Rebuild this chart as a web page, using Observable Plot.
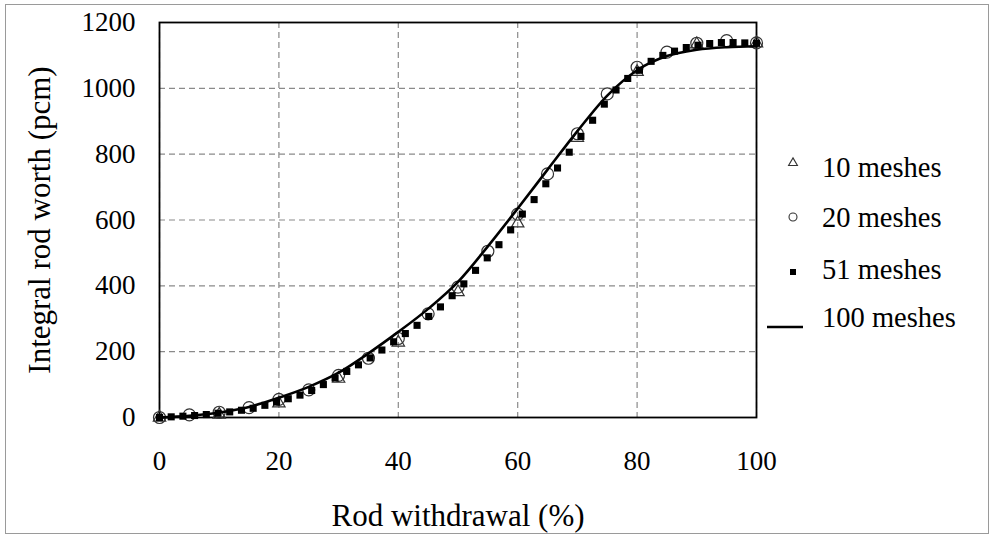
<!DOCTYPE html>
<html>
<head>
<meta charset="utf-8">
<script src="https://cdn.jsdelivr.net/npm/d3@7"></script>
<script src="https://cdn.jsdelivr.net/npm/@observablehq/plot@0.6"></script>
<style>
  html, body { margin: 0; padding: 0; background: #fff; }
  #wrap { position: relative; width: 993px; height: 537px; overflow: hidden; }
  #border { position: absolute; left: 5px; top: 4px; width: 982px; height: 528px; border: 1.5px solid #9a9a9a; pointer-events: none; }
  #legend { position: absolute; left: 0; top: 0; pointer-events: none; }
</style>
</head>
<body>
<div id="wrap"><div id="border"></div></div>
<script>
// ---- data ----
const xTicks = [0, 20, 40, 60, 80, 100];
const yTicks = [0, 200, 400, 600, 800, 1000, 1200];

const x10 = [0, 10, 20, 30, 40, 50, 60, 70, 80, 90, 100];
const y10 = [0, 9, 43, 118, 228, 381, 590, 850, 1050, 1134, 1137];

const x20 = [0, 5, 10, 15, 20, 25, 30, 35, 40, 45, 50, 55, 60, 65, 70, 75, 80, 85, 90, 95, 100];
const y20 = [0, 8, 16, 30, 55, 84, 128, 180, 240, 315, 396, 505, 618, 740, 862, 983, 1064, 1110, 1137, 1145, 1138];

const x51 = [0, 1.96, 3.92, 5.88, 7.84, 9.80, 11.76, 13.73, 15.69, 17.65, 19.61,
  21.57, 23.53, 25.49, 27.45, 29.41, 31.37, 33.33, 35.29, 37.25, 39.22,
  41.18, 43.14, 45.10, 47.06, 49.02, 50.98, 52.94, 54.90, 56.86, 58.82,
  60.78, 62.75, 64.71, 66.67, 68.63, 70.59, 72.55, 74.51, 76.47, 78.43,
  80.39, 82.35, 84.31, 86.27, 88.24, 90.20, 92.16, 94.12, 96.08, 98.04, 100];
const y51 = [0, 2, 4, 6, 9, 13, 17, 22, 28, 37, 47,
  57, 68, 82, 100, 120, 140, 160, 181, 205, 230,
  255, 280, 307, 336, 370, 406, 447, 485, 525, 570,
  618, 662, 710, 758, 806, 854, 903, 952, 995, 1030,
  1055, 1082, 1100, 1113, 1124, 1131, 1136, 1139, 1139, 1138, 1137];

const x100 = [0, 5, 10, 15, 20, 25, 30, 35, 40, 45, 50, 55, 60, 65, 70, 75, 80, 85, 90, 95, 100];
const y100 = [0, 5, 15, 32, 60, 93, 136, 195, 260, 330, 412, 520, 635, 753, 870, 978, 1055, 1098, 1117, 1125, 1128];

const seriesNames = ["10 meshes", "20 meshes", "51 meshes", "100 meshes"];
const xTitle = "Rod withdrawal (%)";
const yTitle = "Integral rod worth (pcm)";

// ---- build ----
const toRows = (xs, ys) => xs.map((x, i) => ({x, y: ys[i]}));
const d10 = toRows(x10, y10), d20 = toRows(x20, y20), d51 = toRows(x51, y51), d100 = toRows(x100, y100);
const FONT = '"Liberation Serif", "Times New Roman", Times, serif';

const chart = Plot.plot({
  width: 993, height: 537,
  marginLeft: 159, marginRight: 237, marginTop: 22, marginBottom: 120,
  style: {fontFamily: FONT, background: "transparent", color: "#000", overflow: "visible"},
  x: {domain: [0, 100]},
  y: {domain: [0, 1200]},
  marks: [
    Plot.gridX(xTicks, {stroke: "#8a8a8a", strokeOpacity: 1, strokeWidth: 1.2, strokeDasharray: "6,4"}),
    Plot.gridY(yTicks, {stroke: "#8a8a8a", strokeOpacity: 1, strokeWidth: 1.2, strokeDasharray: "6,4"}),
    Plot.axisX(xTicks, {tickSize: 0, tickPadding: 33, fontSize: 27, label: null, tickFormat: d => String(d)}),
    Plot.axisY(yTicks, {tickSize: 0, tickPadding: 24, fontSize: 27, label: null, tickFormat: d => String(d)}),
    Plot.frame({stroke: "#000", strokeWidth: 1.8}),
    Plot.dot(d10, {x: "x", y: "y", symbol: "triangle", r: 4.6, stroke: "#333", strokeWidth: 1.2, fill: "none"}),
    Plot.dot(d20, {x: "x", y: "y", symbol: "circle", r: 6, stroke: "#333", strokeWidth: 1.2, fill: "none"}),
    Plot.dot(d51, {x: "x", y: "y", symbol: "square", r: 4, fill: "#000", stroke: "none"}),
    Plot.line(d100, {x: "x", y: "y", curve: "monotone-x", stroke: "#000", strokeWidth: 2.6}),
    Plot.text([xTitle], {text: d => d, frameAnchor: "bottom", textAnchor: "middle", dy: 99, fontSize: 31, fill: "#000", lineAnchor: "middle"}),
    Plot.text([yTitle], {text: d => d, frameAnchor: "left", textAnchor: "middle", dx: -119, rotate: -90, fontSize: 31, fill: "#000", lineAnchor: "middle"})
  ]
});
document.getElementById("wrap").appendChild(chart);

// ---- legend (drawn beside the plot) ----
const legendItems = [
  {name: seriesNames[0], kind: "triangle", cy: 163, ty: 176.5},
  {name: seriesNames[1], kind: "circle", cy: 217, ty: 226.5},
  {name: seriesNames[2], kind: "square", cy: 272, ty: 279},
  {name: seriesNames[3], kind: "line", cy: 327, ty: 326.5}
];
const lg = d3.create("svg").attr("id", "legend").attr("width", 993).attr("height", 537);
for (const it of legendItems) {
  if (it.kind === "line") {
    lg.append("line").attr("x1", 767).attr("x2", 803).attr("y1", it.cy).attr("y2", it.cy)
      .attr("stroke", "#000").attr("stroke-width", 2.6);
  } else {
    const sym = it.kind === "triangle" ? d3.symbolTriangle : it.kind === "circle" ? d3.symbolCircle : d3.symbolSquare;
    const size = it.kind === "triangle" ? 34 : it.kind === "circle" ? 50 : 36;
    lg.append("path").attr("d", d3.symbol(sym, size)())
      .attr("transform", `translate(793,${it.cy})`)
      .attr("fill", it.kind === "square" ? "#000" : "none")
      .attr("stroke", it.kind === "square" ? "none" : "#333")
      .attr("stroke-width", 1.1);
  }
  lg.append("text").attr("x", 822).attr("y", it.ty)
    .attr("font-family", FONT).attr("font-size", 28.5).attr("fill", "#000").text(it.name);
}
document.getElementById("wrap").appendChild(lg.node());
</script>
</body>
</html>
